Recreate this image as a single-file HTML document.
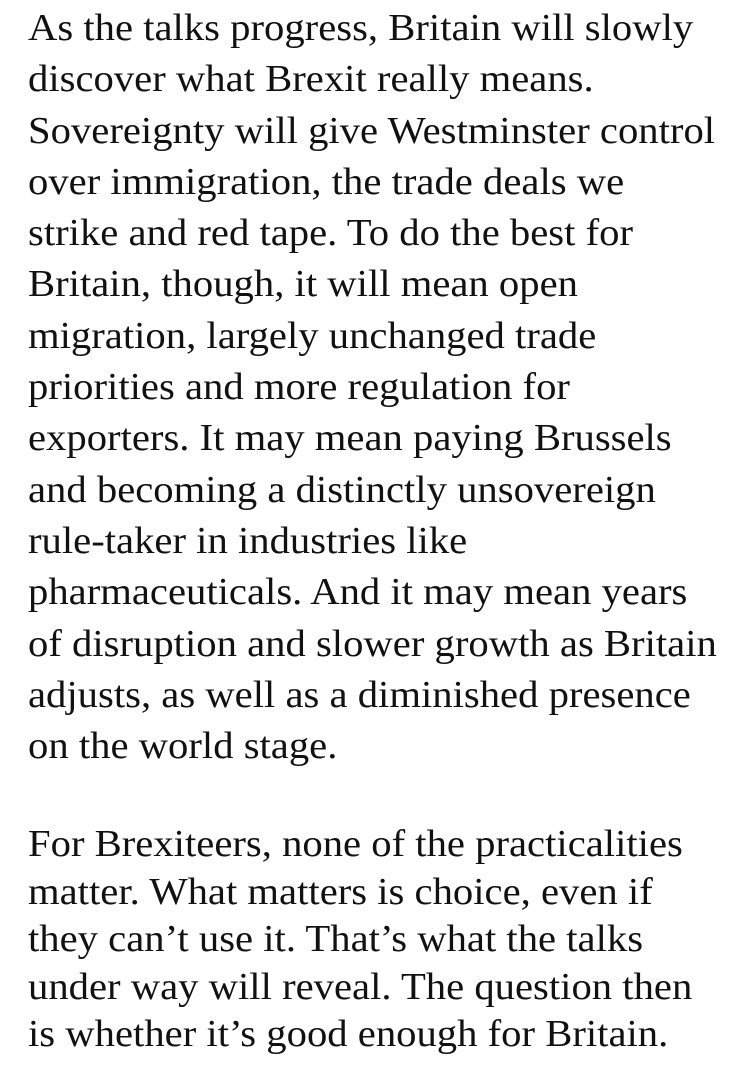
<!DOCTYPE html>
<html><head><meta charset="utf-8"><style>
html,body{margin:0;padding:0;background:#fff;}
body{width:750px;height:1071px;overflow:hidden;position:relative;}
.p{position:absolute;left:28px;font-family:"Liberation Serif",serif;font-size:38px;color:#111;white-space:pre;transform:scaleX(1.07);transform-origin:0 0;}
</style></head><body>
<div class="p" style="top:3px;line-height:51.3px">As the talks progress, Britain will slowly
discover what Brexit really means.
Sovereignty will give Westminster control
over immigration, the trade deals we
strike and red tape. To do the best for
Britain, though, it will mean open
migration, largely unchanged trade
priorities and more regulation for
exporters. It may mean paying Brussels
and becoming a distinctly unsovereign
rule-taker in industries like
pharmaceuticals. And it may mean years
of disruption and slower growth as Britain
adjusts, as well as a diminished presence
on the world stage.</div>
<div class="p" style="top:821px;line-height:47.5px">For Brexiteers, none of the practicalities
matter. What matters is choice, even if
they can’t use it. That’s what the talks
under way will reveal. The question then
is whether it’s good enough for Britain.</div>
</body></html>
